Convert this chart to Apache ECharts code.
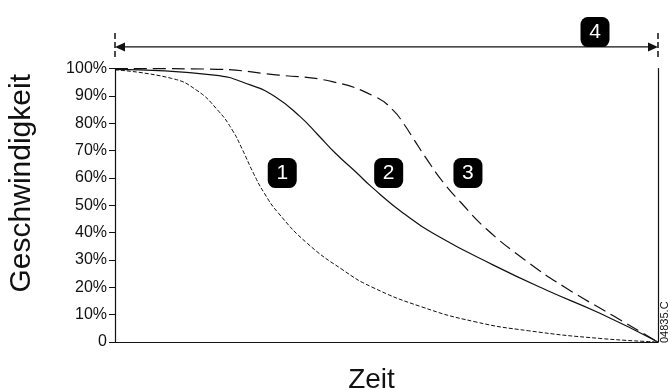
<!DOCTYPE html>
<html>
<head>
<meta charset="utf-8">
<script src="https://cdn.jsdelivr.net/npm/echarts@6/dist/echarts.min.js"></script>
<style>
  html, body { margin: 0; padding: 0; background: #fff; }
  #chart { width: 670px; height: 390px; }
</style>
</head>
<body>
<div id="chart"></div>
<script>
// curves: [time %, speed %]
const curve1 = [[0, 99.5], [10.4, 96.4], [15, 92.1], [18.9, 84.8], [21.6, 77.5], [23.5, 70.2],
  [25.5, 61.7], [27.5, 54.4], [30.1, 47.1], [35.4, 36.1], [42, 26.3], [47.2, 20.2],
  [56.4, 12.9], [66.3, 7.4], [76.2, 4.1], [89.3, 1.3], [100, 0]];
const curve2 = [[0, 99.7], [18.3, 97.6], [24.9, 94], [29.5, 89.7], [34.1, 82.4], [37.4, 75.7],
  [40.6, 69], [44.6, 61.7], [47.2, 56.8], [53.1, 47.1], [59.7, 38.5], [69.6, 28.2],
  [79.4, 19], [89.3, 10.5], [100, 0]];
const curve3 = [[0, 100], [17, 99.8], [30.1, 97.6], [40, 95.2], [47.9, 89.7], [51.2, 84.8],
  [53.1, 80], [55.1, 73.9], [57.1, 67.8], [60.4, 58.5], [63.7, 51], [68.3, 41.5], [75.5, 30],
  [82.7, 20.2], [92, 9.3], [100, 0]];
const markers = [[30.8, 61.8, '1'], [50.4, 61.8, '2'], [65, 61.8, '3'], [88.4, 113.3, '4']];
const arrowY = 107.9;      // span arrow above the plot
const endTicks = [104.2, 113.5];  // dashed ends of the span arrow

const chart = echarts.init(document.getElementById('chart'));

const option = {
  animation: false,
  grid: { left: 115, right: 12, top: 68.5, bottom: 48, containLabel: false, outerBoundsMode: 'none' },
  textStyle: { fontFamily: 'Liberation Sans, Arial, sans-serif' },
  xAxis: {
    type: 'value', min: 0, max: 100,
    name: 'Zeit', nameLocation: 'middle', nameGap: 24,
    nameTextStyle: { fontSize: 28, color: '#111', padding: [0, 30, 0, 0] },
    axisLine: { lineStyle: { color: '#111', width: 1.2 } },
    axisTick: { show: false },
    axisLabel: { show: false },
    splitLine: { show: false }
  },
  yAxis: [{
    type: 'value', min: 0, max: 100, interval: 10,
    name: 'Geschwindigkeit', nameLocation: 'middle', nameGap: 78,
    nameTextStyle: { fontSize: 30, color: '#111', padding: [0, 0, 0, 44] },
    axisLine: { show: true, lineStyle: { color: '#111', width: 1.2 } },
    axisTick: { show: true, length: 6, lineStyle: { color: '#111' } },
    axisLabel: {
      color: '#111', fontSize: 16, margin: 8,
      formatter: v => (v === 0 ? '0' : v + '%')
    },
    splitLine: { show: false }
  }, {
    type: 'value', min: 0, max: 100, position: 'right',
    axisLine: { show: true, lineStyle: { color: '#111', width: 1.2 } },
    axisTick: { show: false }, axisLabel: { show: false }, splitLine: { show: false }
  }],
  series: [
    {
      type: 'line', data: curve1, smooth: 0.5, symbol: 'none',
      lineStyle: { color: '#111', width: 1, type: [4, 2] }
    },
    {
      type: 'line', data: curve2, smooth: 0.5, symbol: 'none',
      lineStyle: { color: '#111', width: 1.2, type: 'solid' }
    },
    {
      type: 'line', data: curve3, smooth: 0.5, symbol: 'none',
      lineStyle: { color: '#111', width: 1.2, type: [13, 6] }
    },
    {
      type: 'scatter', clip: false, silent: true,
      data: markers.map(m => [m[0], m[1], m[2]]),
      symbol: 'roundRect', symbolSize: [29, 30],
      itemStyle: { color: '#000', opacity: 1 },
      label: {
        show: true, position: 'inside', color: '#fff', fontSize: 21,
        formatter: p => p.value[2]
      },
      z: 5
    }
  ]
};

chart.setOption(option);

// span arrow and its dashed ends sit above the plot, placed through the axes
const px = (x, y) => chart.convertToPixel({ gridIndex: 0 }, [x, y]);
const a0 = px(0, arrowY), a1 = px(100, arrowY);
const headLen = 10, headHalf = 4.5;
const graphics = [
  { type: 'line', shape: { x1: a0[0] + headLen, y1: a0[1], x2: a1[0] - headLen, y2: a1[1] },
    style: { stroke: '#111', lineWidth: 1.2 } },
  { type: 'polygon', shape: { points: [[a0[0], a0[1]], [a0[0] + headLen, a0[1] - headHalf], [a0[0] + headLen, a0[1] + headHalf]] },
    style: { fill: '#111' } },
  { type: 'polygon', shape: { points: [[a1[0], a1[1]], [a1[0] - headLen, a1[1] - headHalf], [a1[0] - headLen, a1[1] + headHalf]] },
    style: { fill: '#111' } }
];
[0, 100].forEach(x => {
  const p0 = px(x, endTicks[0]), p1 = px(x, endTicks[1]);
  graphics.push({ type: 'line', shape: { x1: p0[0], y1: p0[1], x2: p1[0], y2: p1[1] },
    style: { stroke: '#111', lineWidth: 1.5, lineDash: [6, 3] } });
});
graphics.push({
  type: 'text', x: 670, y: 343, rotation: Math.PI / 2,
  style: { text: '04835.C', fontSize: 11, fill: '#111', fontFamily: 'Liberation Sans, Arial',
    align: 'left', verticalAlign: 'bottom' }
});
chart.setOption({ graphic: graphics });
</script>
</body>
</html>
